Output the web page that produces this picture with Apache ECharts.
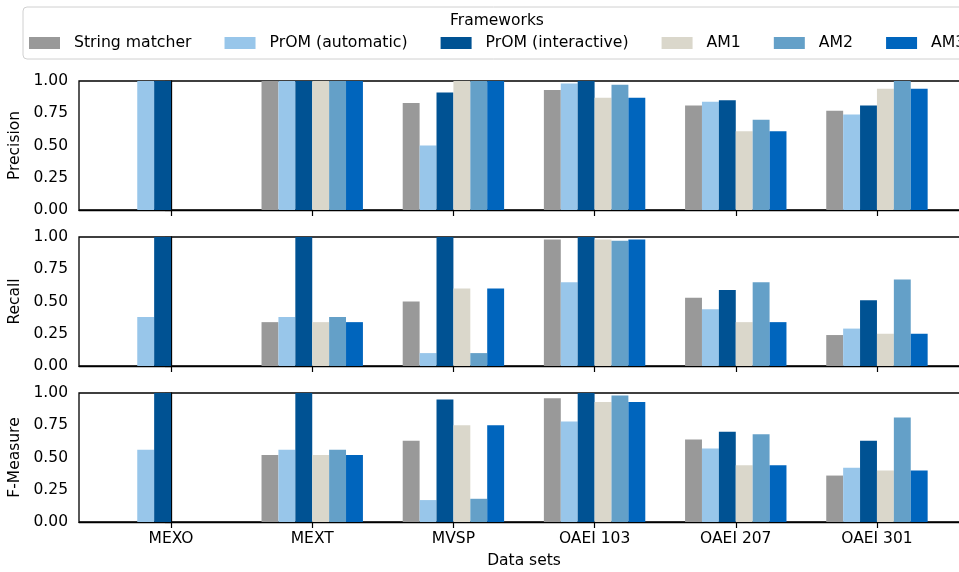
<!DOCTYPE html>
<html>
<head>
<meta charset="utf-8">
<script src="https://cdn.jsdelivr.net/npm/echarts@6/dist/echarts.min.js"></script>
<style>html,body{margin:0;padding:0;background:#fff;}#c{width:959px;height:572px;}</style>
</head>
<body>
<div id="c"></div>
<script>
const categories = ['MEXO', 'MEXT', 'MVSP', 'OAEI 103', 'OAEI 207', 'OAEI 301'];
const frameworks = ['String matcher', 'PrOM (automatic)', 'PrOM (interactive)', 'AM1', 'AM2', 'AM3'];
const colors = ['#999999', '#98C6EA', '#005293', '#DAD7CB', '#64A0C8', '#0065BD'];
const yTicks = [0, 0.25, 0.5, 0.75, 1.0];
const panelNames = ['Precision', 'Recall', 'F-Measure'];

// values per framework, per data set
const precision = [
  [0, 1.00, 0.83, 0.93, 0.81, 0.77],
  [1.00, 1.00, 0.50, 0.98, 0.84, 0.74],
  [1.00, 1.00, 0.91, 1.00, 0.85, 0.81],
  [0, 1.00, 1.00, 0.87, 0.61, 0.94],
  [0, 1.00, 1.00, 0.97, 0.70, 1.00],
  [0, 1.00, 1.00, 0.87, 0.61, 0.94]
];
const recall = [
  [0, 0.34, 0.50, 0.98, 0.53, 0.24],
  [0.38, 0.38, 0.10, 0.65, 0.44, 0.29],
  [1.00, 1.00, 1.00, 1.00, 0.59, 0.51],
  [0, 0.34, 0.60, 0.98, 0.34, 0.25],
  [0, 0.38, 0.10, 0.97, 0.65, 0.67],
  [0, 0.34, 0.60, 0.98, 0.34, 0.25]
];
const fmeasure = [
  [0, 0.52, 0.63, 0.96, 0.64, 0.36],
  [0.56, 0.56, 0.17, 0.78, 0.57, 0.42],
  [1.00, 1.00, 0.95, 1.00, 0.70, 0.63],
  [0, 0.52, 0.75, 0.93, 0.44, 0.40],
  [0, 0.56, 0.18, 0.98, 0.68, 0.81],
  [0, 0.52, 0.75, 0.93, 0.44, 0.40]
];
const panels = [precision, recall, fmeasure];

const FONT = 'DejaVu Sans';
const FS = 15.5;
const tops = [81, 237, 393];
const H = 129;

const grids = tops.map(t => ({
  left: 79, right: -10, top: t, height: H,
  outerBoundsMode: 'none', containLabel: false,
  show: true, borderColor: '#000', borderWidth: 1.3, backgroundColor: 'transparent'
}));

const xAxes = tops.map((t, i) => ({
  gridIndex: i, type: 'value', min: -0.652, max: 5.652,
  splitLine: { show: false },
  axisLine: { show: true, lineStyle: { color: '#000', width: 1.3 } },
  axisTick: { show: true, customValues: [0, 1, 2, 3, 4, 5], length: 6, lineStyle: { color: '#000', width: 1.2 } },
  axisLabel: i === 2 ? {
    show: true, customValues: [0, 1, 2, 3, 4, 5],
    formatter: v => categories[Math.round(v)],
    fontFamily: FONT, fontSize: FS, color: '#000', margin: 9
  } : { show: false },
  name: i === 2 ? 'Data sets' : '',
  nameLocation: 'middle', nameGap: 31,
  nameTextStyle: { fontFamily: FONT, fontSize: FS, color: '#000' }
}));

const yAxes = tops.map((t, i) => ({
  gridIndex: i, type: 'value', min: 0, max: 1, interval: 0.25,
  splitLine: { show: false },
  axisLine: { show: true, lineStyle: { color: '#000', width: 1.3 } },
  axisTick: { show: true, length: 6, lineStyle: { color: '#000', width: 1.2 } },
  axisLabel: { formatter: v => v.toFixed(2), fontFamily: FONT, fontSize: FS, color: '#000', margin: 11 },
  name: panelNames[i], nameLocation: 'middle', nameGap: 54, nameRotate: 90,
  nameTextStyle: { fontFamily: FONT, fontSize: FS, color: '#000' }
}));

const series = [];
panels.forEach((vals, p) => {
  frameworks.forEach((fw, f) => {
    series.push({
      type: 'bar', name: fw, xAxisIndex: p, yAxisIndex: p,
      barWidth: 16.9, barGap: '0%',
      itemStyle: { color: colors[f] },
      data: vals[f].map((v, k) => [k, v])
    });
  });
});

const chart = echarts.init(document.getElementById('c'));
chart.setOption({
  animation: false,
  color: colors,
  grid: grids,
  xAxis: xAxes,
  yAxis: yAxes,
  series: series,
  legend: {
    data: frameworks, left: 29, top: 35, width: 1200, padding: 0,
    icon: 'rect', itemWidth: 31, itemHeight: 12, itemGap: 33,
    textStyle: { fontFamily: FONT, fontSize: 15.7, color: '#000', padding: [0, 0, 0, 9] },
    selectedMode: false
  },
  graphic: [
    { type: 'rect', z: -10, shape: { x: 23, y: 7, width: 975, height: 52, r: 4 },
      style: { fill: '#fff', stroke: '#d0d0d0', lineWidth: 1 } },
    { type: 'text', z: 10, x: 497, y: 21,
      style: { text: 'Frameworks', textAlign: 'center', textVerticalAlign: 'middle',
               font: '15.5px "DejaVu Sans"', fill: '#000' } }
  ]
});
</script>
</body>
</html>
